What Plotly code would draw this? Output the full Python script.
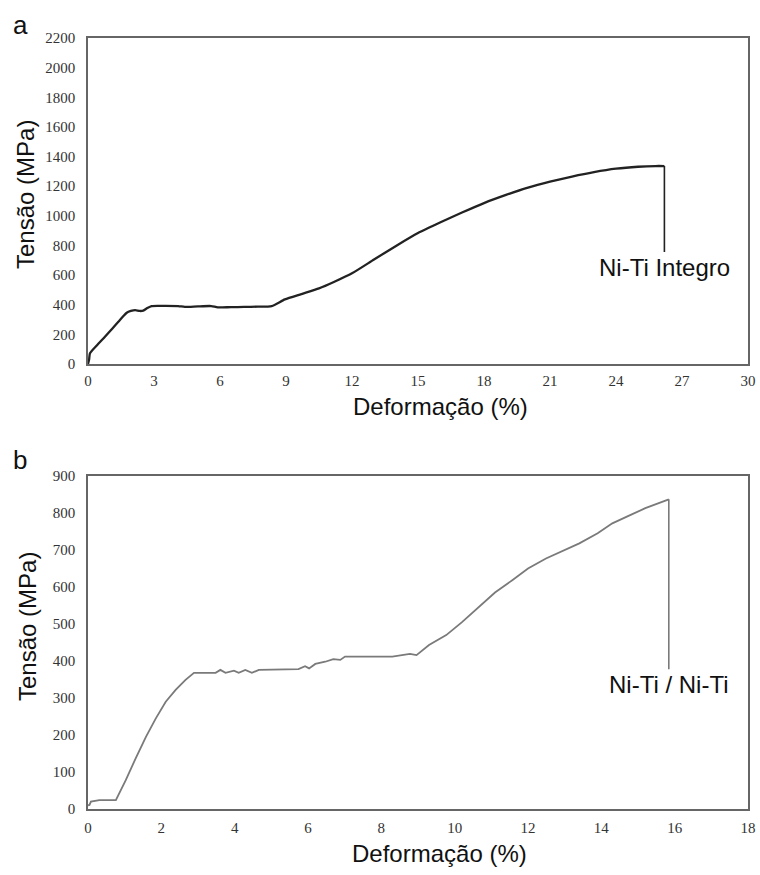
import plotly.graph_objects as go

# Panel a: Ni-Ti Integro
strain_a = [0.0, 0.05, 0.09, 0.4, 0.77, 1.1, 1.38, 1.6, 1.76, 1.95, 2.14, 2.35, 2.51, 2.7, 2.89, 3.5, 4.1, 4.4,
            5.0, 5.6, 5.9, 6.5, 7.1, 7.7, 8.35, 8.95, 9.7, 10.5, 11.2, 12.0, 13.0, 14.0, 15.0, 16.0, 17.0,
            18.0, 19.0, 20.0, 21.0, 22.0, 23.0, 24.0, 25.0, 25.8, 26.2]
stress_a = [0, 30, 72, 125, 184, 238, 285, 322, 346, 358, 364, 358, 360, 378, 391, 392, 391, 385,
            389, 391, 382, 384, 385, 387, 391, 436, 472, 510, 555, 612, 705, 797, 884, 955, 1022,
            1086, 1141, 1190, 1230, 1265, 1295, 1318, 1331, 1336, 1336]

# Panel b: Ni-Ti / Ni-Ti
strain_b = [0.0, 0.04, 0.08, 0.31, 0.76, 1.03, 1.30, 1.58, 1.85, 2.12, 2.39, 2.66, 2.89, 3.48, 3.61, 3.75,
            3.98, 4.11, 4.29, 4.47, 4.66, 5.74, 5.92, 6.03, 6.2, 6.47, 6.69, 6.88, 7.01, 8.0, 8.3, 8.78,
            8.96, 9.3, 9.77, 10.2, 10.68, 11.1, 11.58, 12.0, 12.49, 13.0, 13.4, 13.9, 14.3, 14.8, 15.2, 15.84]
stress_b = [10, 11, 20, 24, 24, 78, 137, 195, 245, 290, 322, 349, 368, 368, 376, 368,
            374, 368, 376, 368, 376, 378, 386, 380, 392, 398, 405, 403, 412, 413, 412, 419,
            416, 443, 470, 505, 547, 585, 619, 650, 677, 700, 718, 745, 772, 795, 813, 837]

label_a = "Ni-Ti Integro"
label_b = "Ni-Ti / Ni-Ti"
xtitle = "Deformação (%)"
ytitle = "Tensão (MPa)"

fig = go.Figure()
fig.add_trace(go.Scatter(x=strain_a, y=stress_a, mode="lines", line_shape="spline",
                         line=dict(color="#222222", width=2.3, smoothing=0.6),
                         xaxis="x", yaxis="y", showlegend=False))
fig.add_trace(go.Scatter(x=strain_b, y=stress_b, mode="lines",
                         line=dict(color="#7a7a7a", width=1.8), xaxis="x2", yaxis="y2", showlegend=False))

H = 875.0
serif = "Liberation Serif"

def axis_style(standoff):
    return dict(showline=True, mirror=True, linecolor="#666666", linewidth=1.5, showgrid=False,
                zeroline=False, ticks="", ticklabelstandoff=standoff,
                tickfont=dict(family=serif, size=15, color="#333333"))

fig.update_layout(
    width=760, height=875,
    margin=dict(l=88, r=12, t=0, b=0, autoexpand=False),
    paper_bgcolor="white", plot_bgcolor="white",
    xaxis=dict(domain=[0, 1], range=[0, 30], tickvals=list(range(0, 31, 3)), anchor="y", **axis_style(2)),
    yaxis=dict(domain=[1 - 364 / H, 1 - 38 / H], range=[0, 2200], tickvals=list(range(0, 2201, 200)),
               anchor="x", **axis_style(8)),
    xaxis2=dict(domain=[0, 1], range=[0, 18], tickvals=list(range(0, 19, 2)), anchor="y2", **axis_style(4)),
    yaxis2=dict(domain=[1 - 809 / H, 1 - 476 / H], range=[0, 900], tickvals=list(range(0, 901, 100)),
                anchor="x2", **axis_style(8)),
)

sans = "Liberation Sans"
def px_x(p):
    return (p - 88) / 660.0
def px_y(p):
    return 1 - p / H

anns = [
    dict(text="a", x=px_x(20), y=px_y(25), size=26),
    dict(text="b", x=px_x(20), y=px_y(460), size=26),
    dict(text=xtitle, x=px_x(441), y=px_y(406), size=24),
    dict(text=xtitle, x=px_x(439), y=px_y(853), size=24),
    dict(text=ytitle, x=px_x(25), y=px_y(195), size=24, angle=-90),
    dict(text=ytitle, x=px_x(27), y=px_y(627), size=24, angle=-90),
]
for a in anns:
    fig.add_annotation(text=a["text"], x=a["x"], y=a["y"], xref="paper", yref="paper",
                       showarrow=False, textangle=a.get("angle", 0),
                       font=dict(family=sans, size=a["size"], color="#111111"),
                       xanchor="center", yanchor="middle")

fig.add_annotation(text=label_a, x=strain_a[-1], y=stress_a[-1], xref="x", yref="y",
                   showarrow=True, arrowhead=0, arrowwidth=1.6, arrowcolor="#222222",
                   ax=0, ay=101, font=dict(family=sans, size=24, color="#111111"))
fig.add_annotation(text=label_b, x=strain_b[-1], y=stress_b[-1], xref="x2", yref="y2",
                   showarrow=True, arrowhead=0, arrowwidth=1.6, arrowcolor="#7a7a7a",
                   ax=0, ay=185, font=dict(family=sans, size=24, color="#111111"))

fig.write_html("out.html")
